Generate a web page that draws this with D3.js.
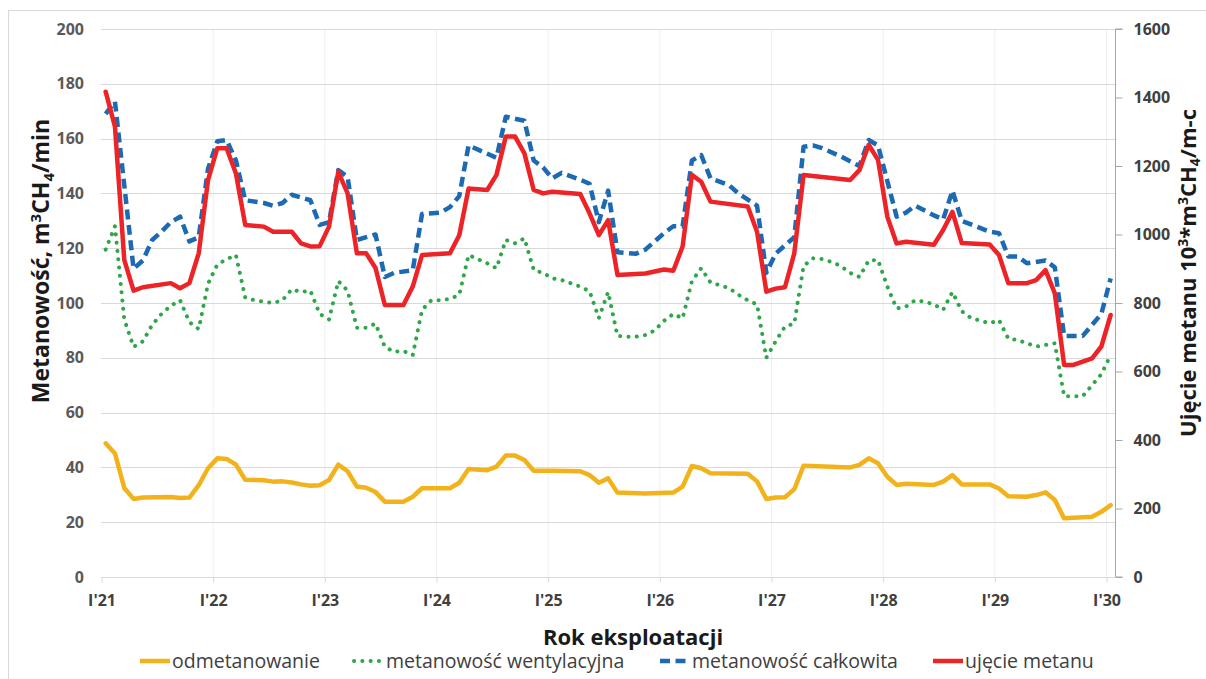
<!DOCTYPE html>
<html>
<head>
<meta charset="utf-8">
<script src="https://cdn.jsdelivr.net/npm/d3@7"></script>
<style>
  body { margin: 0; background: #fff; }
  text { font-family: "Open Sans", "Noto Sans", sans-serif; }
</style>
</head>
<body>
<svg id="chart" width="1206" height="679"></svg>
<script>
// Year labels on the time axis (month 0 = January 2021)
const yearLabels = ["I'21", "I'22", "I'23", "I'24", "I'25", "I'26", "I'27", "I'28", "I'29", "I'30"];
const leftTicks = [0, 20, 40, 60, 80, 100, 120, 140, 160, 180, 200];
const rightTicks = [0, 200, 400, 600, 800, 1000, 1200, 1400, 1600];

// [month since I'21, m3CH4/min]
const odmetanowanie = [[0.5,48.8],[1.5,45.1],[2.5,32.5],[3.5,28.5],[4.5,29],[7.5,29.2],[8.5,28.8],[9.5,29],[10.5,33.5],[11.5,39.7],[12.5,43.3],[13.5,43.1],[14.5,41],[15.5,35.5],[17.5,35.3],[18.5,34.8],[19.5,34.9],[20.5,34.5],[21.5,33.8],[22.5,33.3],[23.5,33.5],[24.5,35.4],[25.5,41],[26.5,38.6],[27.5,33],[28.5,32.6],[29.5,31],[30.5,27.5],[32.5,27.5],[33.5,29.3],[34.5,32.4],[37.5,32.4],[38.5,34.4],[39.5,39.4],[41.5,39],[42.5,40.3],[43.5,44.3],[44.5,44.3],[45.5,42.7],[46.5,38.8],[48.5,38.8],[51.5,38.6],[52.5,37.2],[53.5,34.4],[54.5,36],[55.5,30.8],[58.5,30.5],[61.5,30.8],[62.5,33],[63.5,40.5],[64.5,39.7],[65.5,37.9],[69.5,37.7],[70.5,34.9],[71.5,28.5],[72.5,29],[73.5,29.1],[74.5,32],[75.5,40.6],[78.5,40.2],[80.5,40],[81.5,40.9],[82.5,43.3],[83.5,41.5],[84.5,36.6],[85.5,33.6],[86.5,34],[89.5,33.6],[90.5,34.8],[91.5,37.2],[92.5,33.8],[95.5,33.8],[96.5,32.3],[97.5,29.5],[99.5,29.3],[100.5,29.9],[101.5,30.9],[102.5,28.1],[103.5,21.4],[106.5,22],[107.5,23.8],[108.5,26.2]];

// [month since I'21, m3CH4/min]
const metanowoscWentylacyjna = [[0.5,119.5],[1.5,128],[2.5,94],[3.5,84],[4.5,86],[5.5,92],[6.5,96],[7.5,99],[8.5,101],[9.5,93],[10.5,90.5],[11.5,107],[12.5,114],[13.5,116],[14.5,117.5],[15.5,102],[16.5,101],[17.5,100.5],[18.5,100],[19.5,101],[20.5,105],[21.5,104],[22.5,104.5],[23.5,96],[24.5,94],[25.5,108],[26.5,104.5],[27.5,91],[28.5,91],[29.5,92.5],[30.5,84],[31.5,82.2],[32.5,82.5],[33.5,81],[34.5,97.5],[35.5,101],[36.5,101],[37.5,101.5],[38.5,103],[39.5,117.5],[40.5,116],[41.5,114.5],[42.5,112.7],[43.5,123],[44.5,121.8],[45.5,123.6],[46.5,112],[47.5,111],[48.5,109],[49.5,108.4],[50.5,107.2],[51.5,106],[52.5,104.3],[53.5,94.5],[54.5,104],[55.5,88],[56.5,87.7],[57.5,87.7],[58.5,88.3],[59.5,90],[60.5,93.5],[61.5,96],[62.5,94.4],[63.5,108],[64.5,112.7],[65.5,107.5],[66.5,106.5],[67.5,105.4],[68.5,103],[69.5,101],[70.5,99.5],[71.5,80],[72.5,86],[73.5,91.4],[74.5,92.5],[75.5,113.5],[76.5,116.3],[77.5,116],[78.5,115],[79.5,113.5],[80.5,111],[81.5,109.5],[82.5,115.5],[83.5,115.7],[84.5,106],[85.5,98],[86.5,98.7],[87.5,101],[88.5,100.5],[89.5,99.5],[90.5,97.5],[91.5,104],[92.5,97],[93.5,94.5],[95.5,92.6],[96.5,93.8],[97.5,87],[98.5,86.5],[100.5,84.1],[101.5,84.7],[102.5,85.3],[103.5,66],[105.5,66],[106.5,70],[107.5,74],[108.5,81]];

// [month since I'21, m3CH4/min]
const metanowoscCalkowita = [[0.5,169],[1.5,173.5],[3.5,112.5],[4.5,115.5],[5.5,123],[6.5,126],[7.5,129.5],[8.5,131.5],[9.5,122.5],[10.5,124],[11.5,149],[12.5,159],[13.5,159.5],[14.5,152],[15.5,137.5],[17.5,136.5],[18.5,135.5],[19.5,136.5],[20.5,139.5],[21.5,138.5],[22.5,137.5],[23.5,128.5],[24.5,129.5],[25.5,148.5],[26.5,146],[27.5,123],[29.5,125],[30.5,109.5],[31.5,111],[33.5,112],[34.5,132.5],[36.5,133],[37.5,135],[38.5,139],[39.5,157.5],[42.5,153],[43.5,168],[45.5,166.5],[46.5,152],[47.5,149.5],[48.5,145.5],[49.5,147.5],[51.5,145],[52.5,143.5],[53.5,129.5],[54.5,141],[55.5,118.5],[57.5,118],[58.5,119.5],[59.5,122.5],[60.5,125.5],[61.5,128],[62.5,128],[63.5,152],[64.5,154],[65.5,145.5],[67.5,143],[68.5,140],[70.5,135.5],[71.5,111],[72.5,118],[74.5,124],[75.5,157],[76.5,157.5],[77.5,156.5],[79.5,153.5],[81.5,150],[82.5,159.5],[83.5,157.5],[85.5,131.5],[86.5,133],[87.5,135.5],[89.5,132],[90.5,130.5],[91.5,141],[92.5,130],[95.5,126],[96.5,125.5],[97.5,117],[98.5,117],[99.5,114.5],[101.5,115.5],[102.5,113],[103.5,88],[105.5,88],[107.5,96],[108.5,109]];

// [month since I'21, 10^3 m3CH4 per month] - right axis
const ujecieMetanu = [[0.5,1417],[1.5,1315],[2.5,926],[3.5,836],[4.5,846],[7.5,858],[8.5,843],[9.5,858],[10.5,945],[11.5,1159],[12.5,1252],[13.5,1252],[14.5,1178],[15.5,1028],[17.5,1023],[18.5,1008],[20.5,1008],[21.5,974],[22.5,965],[23.5,966],[24.5,1023],[25.5,1183],[26.5,1120],[27.5,945],[28.5,945],[29.5,902],[30.5,794],[32.5,794],[33.5,848],[34.5,940],[37.5,945],[38.5,998],[39.5,1134],[41.5,1130],[42.5,1174],[43.5,1286],[44.5,1286],[45.5,1237],[46.5,1130],[47.5,1120],[48.5,1125],[51.5,1118],[52.5,1062],[53.5,998],[54.5,1042],[55.5,882],[58.5,886],[60.5,898],[61.5,894],[62.5,965],[63.5,1174],[64.5,1154],[65.5,1096],[69.5,1082],[70.5,1008],[71.5,833],[72.5,842],[73.5,846],[74.5,945],[75.5,1174],[80.5,1159],[81.5,1188],[82.5,1262],[83.5,1218],[84.5,1052],[85.5,974],[86.5,979],[89.5,970],[90.5,1013],[91.5,1066],[92.5,975],[95.5,971],[96.5,940],[97.5,858],[99.5,858],[100.5,867],[101.5,896],[102.5,828],[103.5,619],[104.5,619],[106.5,638],[107.5,673],[108.5,765]];

const legendItems = [
  { name: "odmetanowanie", key: "odm" },
  { name: "metanowość wentylacyjna", key: "went" },
  { name: "metanowość całkowita", key: "calk" },
  { name: "ujęcie metanu", key: "uj" }
];

const styles = {
  odm:  { color: "#F2B21B", width: 4.5, dash: null, cap: "round" },
  went: { color: "#2FA64A", width: 4, dash: "0.1 8.2", cap: "round" },
  calk: { color: "#1D6AB4", width: 4.5, dash: "10 5.5", cap: "butt" },
  uj:   { color: "#EC2327", width: 4.5, dash: null, cap: "round" }
};

const svg = d3.select("#chart");
const plot = { left: 101, right: 1115, top: 29, bottom: 577 };

const x = d3.scaleLinear().domain([0, 108]).range([101, 1106]);
const yL = d3.scaleLinear().domain([0, 200]).range([plot.bottom, plot.top]);
const yR = d3.scaleLinear().domain([0, 1600]).range([plot.bottom, plot.top]);

// outer chart frame
svg.append("rect").attr("x", 8.5).attr("y", 10.5).attr("width", 1230).attr("height", 700)
  .attr("fill", "none").attr("stroke", "#d9d9d9").attr("stroke-width", 1);

// vertical year gridlines
svg.append("g").selectAll("line").data(yearLabels.slice(1)).join("line")
  .attr("x1", (d, i) => x((i + 1) * 12) + 0.5).attr("x2", (d, i) => x((i + 1) * 12) + 0.5)
  .attr("y1", plot.top).attr("y2", plot.bottom)
  .attr("stroke", "#efefef").attr("stroke-width", 1);

// horizontal gridlines
svg.append("g").selectAll("line").data(leftTicks).join("line")
  .attr("x1", plot.left).attr("x2", plot.right)
  .attr("y1", d => Math.round(yL(d)) + 0.5).attr("y2", d => Math.round(yL(d)) + 0.5)
  .attr("stroke", "#d9d9d9").attr("stroke-width", 1);

// left axis labels
const leftAxis = d3.axisLeft(yL).tickValues(leftTicks).tickSize(0).tickPadding(17).tickFormat(d3.format("d"));
const gL = svg.append("g").attr("transform", `translate(${plot.left},0)`).call(leftAxis);
gL.select(".domain").remove();
gL.selectAll("text").attr("font-size", 16).attr("font-weight", 700).attr("fill", "#595959")
  .attr("font-family", "'Open Sans', sans-serif");

// right axis
const rightAxis = d3.axisRight(yR).tickValues(rightTicks).tickSize(7).tickPadding(11).tickFormat(d3.format("d"));
const gR = svg.append("g").attr("transform", `translate(${plot.right + 0.5},0)`).call(rightAxis);
gR.select(".domain").attr("stroke", "#a6a6a6").attr("d", `M7,${plot.top}H0V${plot.bottom}H7`);
gR.selectAll(".tick line").attr("stroke", "#a6a6a6");
gR.selectAll("text").attr("font-size", 16).attr("font-weight", 700).attr("fill", "#404040")
  .attr("font-family", "'Open Sans', sans-serif");

// bottom axis
const yearTicks = yearLabels.map((d, i) => i * 12);
const bottomAxis = d3.axisBottom(x).tickValues(yearTicks)
  .tickFormat((d, i) => yearLabels[i]).tickSize(5).tickPadding(12);
const gB = svg.append("g").attr("transform", `translate(0.5,${Math.round(plot.bottom) + 0.5})`).call(bottomAxis);
gB.select(".domain").attr("stroke", "#d9d9d9").attr("d", `M${plot.left},0H${plot.right}`);
gB.selectAll(".tick line").attr("stroke", "#d9d9d9");
gB.selectAll("text").attr("font-size", 16).attr("font-weight", 700).attr("fill", "#404040")
  .attr("font-family", "'Open Sans', sans-serif");

// series
function drawSeries(data, yScale, st) {
  const line = d3.line().x(d => x(d[0])).y(d => yScale(d[1]));
  const p = svg.append("path").datum(data).attr("d", line)
    .attr("fill", "none").attr("stroke", st.color).attr("stroke-width", st.width)
    .attr("stroke-linejoin", "round").attr("stroke-linecap", st.cap);
  if (st.dash) p.attr("stroke-dasharray", st.dash);
}
drawSeries(odmetanowanie, yL, styles.odm);
drawSeries(metanowoscWentylacyjna, yL, styles.went);
drawSeries(metanowoscCalkowita, yL, styles.calk);
drawSeries(ujecieMetanu, yR, styles.uj);

// axis titles
const leftTitle = svg.append("text")
  .attr("transform", "translate(49,261) rotate(-90)")
  .attr("text-anchor", "middle").attr("font-size", 23).attr("font-weight", 700).attr("fill", "#1a1a1a");
leftTitle.append("tspan").text("Metanowość, m");
leftTitle.append("tspan").text("3").attr("font-size", 15).attr("dy", -8);
leftTitle.append("tspan").text("CH").attr("dy", 8);
leftTitle.append("tspan").text("4").attr("font-size", 15).attr("dy", 5);
leftTitle.append("tspan").text("/min").attr("dy", -5);

const rightTitle = svg.append("text")
  .attr("transform", "translate(1196,273) rotate(-90)")
  .attr("text-anchor", "middle").attr("font-size", 22).attr("font-weight", 700).attr("fill", "#1a1a1a");
rightTitle.append("tspan").text("Ujęcie metanu 10");
rightTitle.append("tspan").text("3").attr("font-size", 14).attr("dy", -8);
rightTitle.append("tspan").text("*m").attr("dy", 8);
rightTitle.append("tspan").text("3").attr("font-size", 14).attr("dy", -8);
rightTitle.append("tspan").text("CH").attr("dy", 8);
rightTitle.append("tspan").text("4").attr("font-size", 14).attr("dy", 4);
rightTitle.append("tspan").text("/m-c").attr("dy", -4);

svg.append("text").attr("x", 633).attr("y", 645).attr("text-anchor", "middle")
  .attr("font-size", 22).attr("font-weight", 700).attr("fill", "#1a1a1a")
  .text("Rok eksploatacji");

// legend
const legendX = [140, 354, 660, 933];
const legendY = 661;
const lg = svg.append("g");
legendItems.forEach((it, i) => {
  const st = styles[it.key];
  const ln = lg.append("line").attr("x1", legendX[i]).attr("x2", legendX[i] + 30)
    .attr("y1", legendY).attr("y2", legendY)
    .attr("stroke", st.color).attr("stroke-width", st.width).attr("stroke-linecap", st.cap === "round" && !st.dash ? "butt" : st.cap);
  if (st.dash) ln.attr("stroke-dasharray", st.dash);
  lg.append("text").attr("x", legendX[i] + 32).attr("y", legendY + 7)
    .attr("font-size", 19.5).attr("fill", "#404040").text(it.name);
});
</script>
</body>
</html>
